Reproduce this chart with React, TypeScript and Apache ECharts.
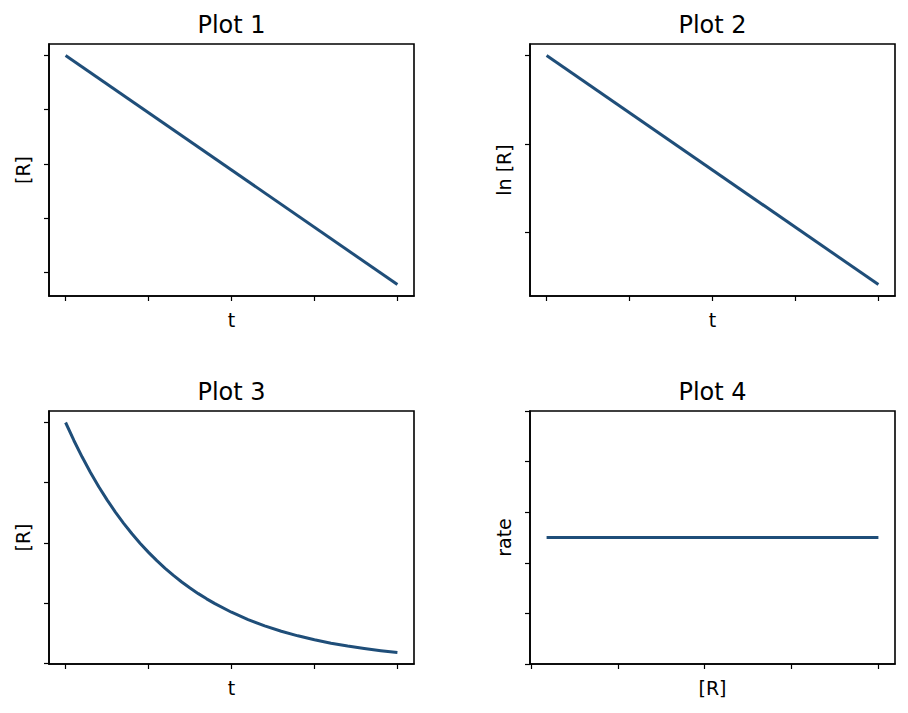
import React, { useEffect, useRef } from "react";
import * as echarts from "echarts";

const titles = ["Plot 1", "Plot 2", "Plot 3", "Plot 4"];
const xNames = ["t", "t", "t", "[R]"];
const yNames = ["[R]", "ln [R]", "[R]", "rate"];

const tTicks = [0, 2.5, 5, 7.5, 10];

const plot1T = [0, 10];
const plot1R = [1.0, 0.155];
const plot1YTicks = [0.2, 0.4, 0.6, 0.8, 1.0];

const plot2T = [0, 10];
const plot2LnR = [0, -2.593];
const plot2YTicks = [-2, -1, 0];

const plot3T = [0, 0.25, 0.5, 0.75, 1, 1.25, 1.5, 1.75, 2, 2.25, 2.5, 2.75, 3, 3.25, 3.5, 3.75, 4, 4.25, 4.5,
  5, 5.5, 6, 6.5, 7, 7.5, 8, 8.5, 9, 9.5, 10];
const plot3R = [1.0, 0.9254, 0.8564, 0.7926, 0.7334, 0.6788, 0.6281, 0.5813, 0.5379, 0.4978, 0.4607, 0.4263,
  0.3946, 0.3651, 0.3379, 0.3127, 0.2894, 0.2678, 0.2478,
  0.2122, 0.1818, 0.1557, 0.1333, 0.1142, 0.0978, 0.0837, 0.0717, 0.0614, 0.0526, 0.045];
const plot3YTicks = [0, 0.25, 0.5, 0.75, 1.0];

const plot4R = [0.045, 1.0];
const plot4Rate = [5, 5];
const plot4XTicks = [0, 0.25, 0.5, 0.75, 1.0];
const plot4YTicks = [0, 2, 4, 6, 8, 10];

const LINE_COLOR = "#1f4e79";
const FONT = "DejaVu Sans";

function padRange(vals: number[]) {
  const lo = Math.min(...vals);
  const hi = Math.max(...vals);
  const m = (hi - lo) * 0.05;
  return [lo - m, hi + m];
}

export default function App() {
  const ref = useRef<HTMLDivElement>(null);
  useEffect(() => {
    if (!ref.current) return;
    const chart = echarts.init(ref.current, undefined, { renderer: "svg" });

    const grids = [
      { left: 49, top: 44, width: 365, height: 252 },
      { left: 530, top: 44, width: 365, height: 252 },
      { left: 49, top: 411, width: 365, height: 253 },
      { left: 530, top: 411, width: 365, height: 253 },
    ];

    const xs = [plot1T, plot2T, plot3T, plot4R];
    const ys = [plot1R, plot2LnR, plot3R, plot4Rate];
    const xTicks = [tTicks, tTicks, tTicks, plot4XTicks];
    const yTicks = [plot1YTicks, plot2YTicks, plot3YTicks, plot4YTicks];

    const axisCommon = (ticks: number[]) => ({
      type: "value",
      axisLine: { show: true, onZero: false, lineStyle: { color: "#000", width: 1.6 } },
      axisTick: { show: true, length: 5, customValues: ticks, lineStyle: { color: "#000", width: 1.2 } },
      axisLabel: { show: false },
      splitLine: { show: false },
      nameLocation: "middle",
      nameTextStyle: { fontFamily: FONT, fontSize: 19, color: "#000" },
    });

    const xAxis = xs.map((x, i) => {
      const [mn, mx] = padRange(x);
      return { ...axisCommon(xTicks[i]), gridIndex: i, min: mn, max: mx, name: xNames[i], nameGap: 14 };
    });
    const yAxis = ys.map((y, i) => {
      let [mn, mx] = padRange(y);
      if (i === 3) {
        mn = plot4YTicks[0];
        mx = plot4YTicks[plot4YTicks.length - 1];
      }
      return { ...axisCommon(yTicks[i]), gridIndex: i, min: mn, max: mx, name: yNames[i], nameGap: 17 };
    });

    const series = xs.map((x, i) => ({
      type: "line",
      xAxisIndex: i,
      yAxisIndex: i,
      data: x.map((v, j) => [v, ys[i][j]]),
      showSymbol: false,
      smooth: false,
      lineStyle: { color: LINE_COLOR, width: 3, join: "round" },
      itemStyle: { color: LINE_COLOR },
    }));

    const title = titles.map((t, i) => ({
      text: t,
      left: grids[i].left + grids[i].width / 2,
      top: grids[i].top - 31,
      padding: 0,
      textAlign: "center",
      textStyle: { fontFamily: FONT, fontSize: 24, fontWeight: "normal", color: "#000" },
    }));

    chart.setOption({
      animation: false,
      backgroundColor: "#fff",
      title,
      grid: grids.map((g) => ({ ...g, show: true, borderColor: "#000", borderWidth: 1.6, backgroundColor: "transparent" })),
      xAxis,
      yAxis,
      series,
    });
    return () => chart.dispose();
  }, []);
  return <div ref={ref} style={{ position: "absolute", left: 0, top: 0, width: 908, height: 713 }} />;
}
